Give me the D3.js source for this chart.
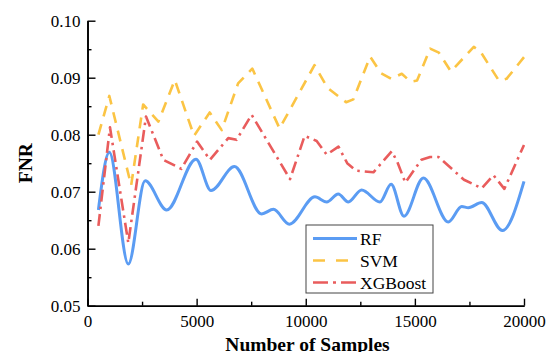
<!DOCTYPE html>
<html>
<head>
<meta charset="utf-8">
<script src="https://cdn.jsdelivr.net/npm/d3@7"></script>
<style>
  body { margin: 0; background: #fff; }
  svg { display: block; }
  svg text { font-family: "Liberation Serif", "Times New Roman", serif; }
</style>
</head>
<body>
<svg id="chart"></svg>
<script>
// knots (samples, FNR)
var rfX = [500, 1000, 1870, 2640, 3630, 4970, 5660, 6730, 7980, 8520, 9250, 10420, 10960, 11490, 11950, 12560, 13400, 13910, 14500, 15390, 16530, 17150, 17450, 18060, 19010, 20000]
var rfY = [0.0668, 0.0769, 0.0573, 0.0719, 0.0668, 0.0757, 0.0702, 0.0744, 0.0661, 0.0669, 0.0643, 0.0691, 0.0682, 0.0696, 0.0682, 0.0703, 0.0682, 0.0713, 0.0657, 0.0724, 0.0647, 0.0674, 0.0672, 0.0681, 0.0632, 0.0718]

var svmX = [500, 1000, 2000, 2550, 3250, 4000, 4880, 5600, 6150, 6900, 7550, 8800, 10400, 11000, 11850, 12180, 12950, 13450, 13920, 14400, 14800, 15100, 15700, 16100, 16650, 17700, 18000, 18850, 19200, 20000]
var svmY = [0.0800, 0.0868, 0.0711, 0.0853, 0.0823, 0.0896, 0.0798, 0.0839, 0.0808, 0.0890, 0.0916, 0.0811, 0.0922, 0.0882, 0.0857, 0.0862, 0.0937, 0.0908, 0.0898, 0.0907, 0.0893, 0.0895, 0.0951, 0.0944, 0.0911, 0.0954, 0.0946, 0.0895, 0.0898, 0.0936]

var xgbX = [500, 1030, 1870, 2680, 3475, 4300, 5020, 5610, 6450, 6830, 7520, 9280, 9950, 10500, 10960, 11500, 11900, 12300, 13100, 13940, 14200, 14560, 15300, 15700, 16080, 17250, 18060, 18600, 19100, 20000]
var xgbY = [0.0640, 0.0813, 0.0610, 0.0832, 0.0756, 0.0740, 0.0788, 0.0756, 0.0794, 0.0791, 0.0835, 0.0722, 0.0798, 0.0789, 0.0765, 0.0779, 0.0750, 0.0737, 0.0734, 0.0771, 0.0752, 0.0716, 0.0756, 0.0761, 0.0761, 0.0721, 0.0706, 0.0729, 0.0705, 0.0782]

var xTicks = [0, 5000, 10000, 15000, 20000]
var xMinor = [2500, 7500, 12500, 17500]
var yTicks = [0.05, 0.06, 0.07, 0.08, 0.09, 0.10]
var yMinor = [0.055, 0.065, 0.075, 0.085, 0.095]

var names = ["RF", "SVM", "XGBoost"]
var colors = ["#5b9cf3", "#fbc444", "#e95c5c"]

var width = 547
var height = 352
var margin = ({top: 20.7, right: 23, bottom: 46.3, left: 87.5})
var serif = "'Liberation Serif', 'Times New Roman', serif"

var svg = d3.select("#chart").attr("width", width).attr("height", height)

var x = d3.scaleLinear()
  .domain([0, 20000])
  .range([margin.left, width - margin.right])
var y = d3.scaleLinear()
  .domain([0.05, 0.10])
  .range([height - margin.bottom, margin.top])

var series = [
  {name: names[0], xs: rfX, ys: rfY, color: colors[0], dash: null, w: 3, curve: d3.curveMonotoneX},
  {name: names[1], xs: svmX, ys: svmY, color: colors[1], dash: "11,8", w: 2.6, curve: d3.curveLinear},
  {name: names[2], xs: xgbX, ys: xgbY, color: colors[2], dash: "12,5,2.5,5", w: 2.6, curve: d3.curveLinear}
]

series.forEach(function(s) {
  var pts = s.xs.map(function(v, i) { return [v, s.ys[i]] })
  var line = d3.line()
    .x(function(d) { return x(d[0]) })
    .y(function(d) { return y(d[1]) })
    .curve(s.curve)
  svg.append("path")
    .datum(pts)
    .attr("fill", "none")
    .attr("stroke", s.color)
    .attr("stroke-width", s.w)
    .attr("stroke-dasharray", s.dash)
    .attr("stroke-linejoin", "round")
    .attr("d", line)
})

// axes, ticks pointing inward
var xAxis = (g) => g
  .attr("transform", `translate(0,${y(0.05)})`)
  .call(d3.axisBottom(x).tickValues(xTicks).tickFormat(d3.format("d")).tickSizeInner(-7).tickSizeOuter(0).tickPadding(9))
var xAxisMinor = (g) => g
  .attr("transform", `translate(0,${y(0.05)})`)
  .call(d3.axisBottom(x).tickValues(xMinor).tickFormat("").tickSizeInner(-4).tickSizeOuter(0))
var yAxis = (g) => g
  .attr("transform", `translate(${x(0)},0)`)
  .call(d3.axisLeft(y).tickValues(yTicks).tickFormat(d3.format(".2f")).tickSizeInner(-8).tickSizeOuter(0).tickPadding(7))
var yAxisMinor = (g) => g
  .attr("transform", `translate(${x(0)},0)`)
  .call(d3.axisLeft(y).tickValues(yMinor).tickFormat("").tickSizeInner(-4).tickSizeOuter(0))

svg.append("g").call(xAxisMinor)
svg.append("g").call(yAxisMinor)
svg.append("g").call(xAxis)
svg.append("g").call(yAxis)

svg.selectAll(".domain").attr("stroke", "#000").attr("stroke-width", 1.6)
svg.selectAll(".tick line").attr("stroke", "#000").attr("stroke-width", 1.4)
svg.selectAll(".tick text")
  .attr("fill", "#000")
  .style("font-family", serif)
  .style("font-size", "17px")

svg.append("text")
  .attr("transform", `translate(32,${(y(0.05) + y(0.10)) / 2}) rotate(-90)`)
  .attr("text-anchor", "middle")
  .attr("font-size", 19.5)
  .attr("font-weight", "bold")
  .text("FNR")

svg.append("text")
  .attr("x", 307.5)
  .attr("y", 350.5)
  .attr("text-anchor", "middle")
  .attr("font-size", 19.5)
  .attr("font-weight", "bold")
  .text("Number of Samples")

// legend
var lg = svg.append("g").attr("transform", "translate(306,225)")
lg.append("rect")
  .attr("width", 127)
  .attr("height", 68)
  .attr("fill", "#fff")
  .attr("stroke", "#444")
  .attr("stroke-width", 1)
series.forEach(function(s, i) {
  var ly = 13.5 + i * 22
  lg.append("line")
    .attr("x1", 7).attr("x2", 51)
    .attr("y1", ly).attr("y2", ly)
    .attr("stroke", s.color)
    .attr("stroke-width", s.w)
    .attr("stroke-dasharray", s.name == "SVM" ? "12,11" : (s.name == "XGBoost" ? "15,5,3,5" : null))
  lg.append("text")
    .attr("x", 54)
    .attr("y", ly + 6)
    .attr("font-size", 17.5)
    .text(s.name)
})
</script>
</body>
</html>
